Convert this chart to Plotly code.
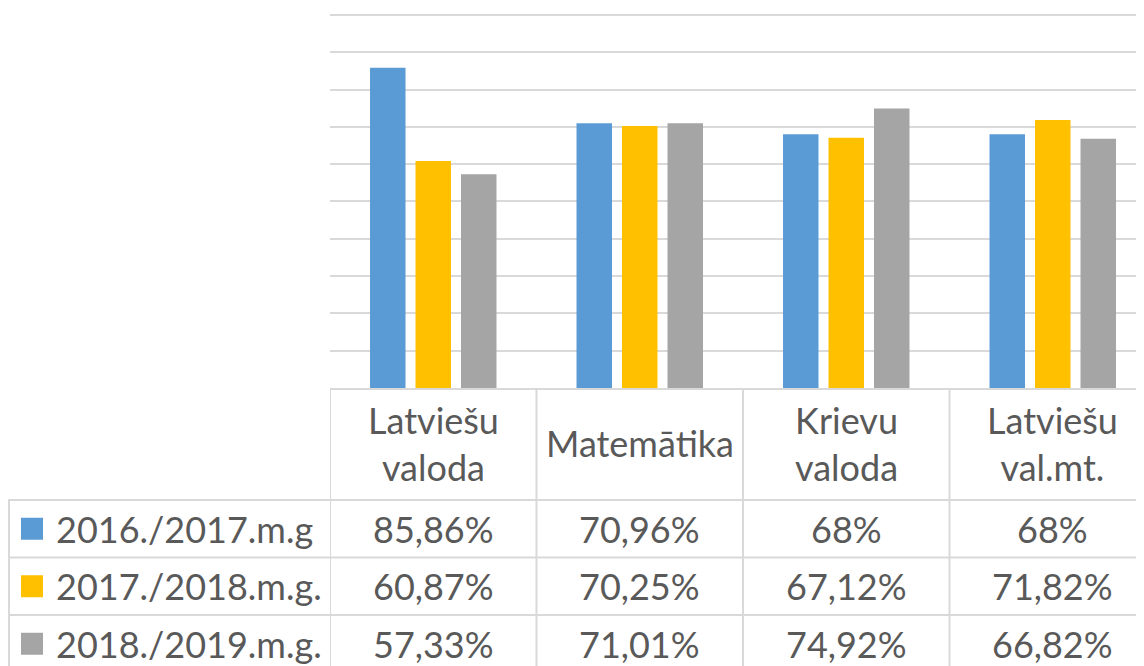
import plotly.graph_objects as go

categories = ['Latviešu<br>valoda', 'Matemātika', 'Krievu<br>valoda', 'Latviešu<br>val.mt.']
series_names = ['2016./2017.m.g', '2017./2018.m.g.', '2018./2019.m.g.']
values_1617 = [85.86, 70.96, 68, 68]
values_1718 = [60.87, 70.25, 67.12, 71.82]
values_1819 = [57.33, 71.01, 74.92, 66.82]
series_values = [values_1617, values_1718, values_1819]
colors = ['#5B9BD5', '#FFC000', '#A5A5A5']

# page body has an 8px margin, so the figure starts at (8, 8) of the window
OFF = 8
W, H = 1136, 658
TXT = '#595959'
GRID = '#D9D9D9'
FONT = 'Lato'
FS = 36


def px(pix):
    return (pix - OFF) / W


def py(pix):
    # window pixel row -> paper y (margins are zero)
    return 1 - (pix - OFF) / H


def fmt(v):
    s = f'{v:.2f}'.rstrip('0').rstrip('.')
    return s.replace('.', ',') + '%'


def main():
    fig = go.Figure()
    xs = list(range(len(categories)))
    for name, vals, col in zip(series_names, series_values, colors):
        fig.add_trace(go.Bar(
            x=xs, y=[v / 100 for v in vals], name=name,
            marker=dict(color=col, line=dict(width=0)),
            showlegend=False
        ))

    shapes = []
    ann = []
    row_tops = [500, 557.5, 615]
    row_h = 57.5
    # horizontal lines of the data table
    for rt in row_tops:
        shapes.append(dict(type='line', xref='paper', yref='paper',
                           x0=px(8), x1=1, y0=py(rt), y1=py(rt),
                           line=dict(color=GRID, width=2)))
    # left border of legend column
    shapes.append(dict(type='line', xref='paper', yref='paper',
                       x0=px(9), x1=px(9), y0=py(500), y1=0,
                       line=dict(color=GRID, width=2)))
    # vertical lines at category boundaries
    for b in [-0.5, 0.5, 1.5, 2.5]:
        shapes.append(dict(type='line', xref='x', yref='paper',
                           x0=b, x1=b, y0=py(388), y1=0,
                           line=dict(color=GRID, width=2)))

    # header labels
    for i, c in enumerate(categories):
        ann.append(dict(x=i, y=py(443), xref='x', yref='paper', text=c,
                        showarrow=False, xanchor='center', yanchor='middle',
                        font=dict(family=FONT, size=FS, color=TXT)))

    # rows: legend key + name + values
    for r, (name, vals, col) in enumerate(zip(series_names, series_values, colors)):
        yc = row_tops[r] + row_h / 2
        shapes.append(dict(type='rect', xref='paper', yref='paper',
                           x0=px(21), x1=px(43), y0=py(yc - 11), y1=py(yc + 11),
                           fillcolor=col, line=dict(width=0)))
        ann.append(dict(x=px(54), y=py(yc), xref='paper', yref='paper', text=name,
                        showarrow=False, xanchor='left', yanchor='middle',
                        font=dict(family=FONT, size=FS, color=TXT)))
        for i, v in enumerate(vals):
            ann.append(dict(x=i, y=py(yc), xref='x', yref='paper', text=fmt(v),
                            showarrow=False, xanchor='center', yanchor='middle',
                            font=dict(family=FONT, size=FS, color=TXT)))

    # plot area spans window x 330 -> 1144 (figure edge), 206.5px per category
    x_end = -0.5 + (OFF + W - 330) / 206.5
    # y: 0 at row 388, 100% at row 15 (373px); small headroom so the top gridline shows
    y_top = 1.004
    fig.update_layout(
        width=W, height=H,
        margin=dict(l=0, r=0, t=0, b=0),
        paper_bgcolor='white', plot_bgcolor='white',
        barmode='group', bargap=0.339, bargroupgap=0.22,
        xaxis=dict(domain=[px(330), 1], range=[-0.5, x_end],
                   showticklabels=False, showgrid=False, zeroline=False,
                   showline=True, linecolor=GRID, linewidth=2, ticks=''),
        yaxis=dict(domain=[py(388), py(388 - 373 * y_top)], range=[0, y_top],
                   tickvals=[i / 10 for i in range(11)],
                   showticklabels=False, gridcolor=GRID, gridwidth=2,
                   zeroline=False, showline=False, ticks=''),
        shapes=shapes, annotations=ann,
    )
    fig.write_html('out.html')


if __name__ == '__main__':
    main()
